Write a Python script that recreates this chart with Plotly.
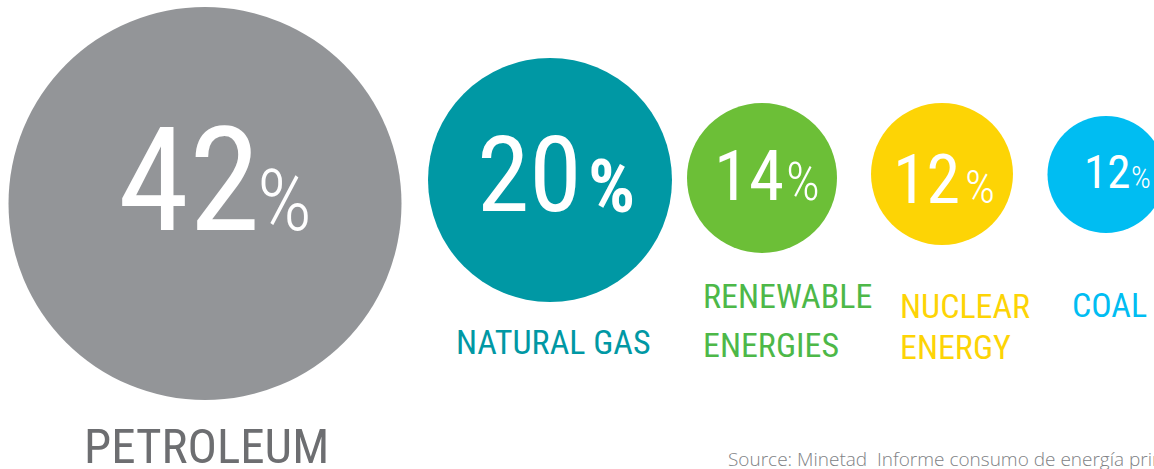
import plotly.graph_objects as go

# ---- data ----
categories = ["PETROLEUM", "NATURAL GAS", "RENEWABLE\nENERGIES", "NUCLEAR\nENERGY", "COAL"]
values = [42, 20, 14, 12, 12]
source_text = "Source: Minetad  Informe consumo de energía primaria"

# ---- layout / style (pixel coordinates, y downward) ----
W, H = 1154, 469
circle_colors = ["#939598", "#0098A4", "#6CBF37", "#FDD405", "#00BDF2"]
label_colors = ["#6D6E71", "#0098A4", "#4DB848", "#FDD405", "#00BDF2"]
centers_x = [205, 550, 762, 942, 1106]
centers_y = [203.5, 180, 178, 174, 174.5]
diameters = [393, 244, 150, 142, 117]

# percentage text: number centre x, % centre x, baseline y, fonts
num_x = [188.5, 529.5, 748.5, 926, 1107]
pc_x = [284, 611, 802.5, 979.5, 1141]
base_y = [230, 212, 200, 203, 188]
num_font = [144, 106, 71, 68, 47]
pc_font = [86, 74, 53, 47, 31]
pct_bold = [False, True, False, False, False]

# labels: anchor x, xanchor, first-line middle y, font, line spacing
lab_x = [206, 553, 701, 898, 1109.5]
lab_anchor = ["center", "center", "left", "left", "center"]
lab_y = [446, 341.5, 296, 305.5, 305]
lab_font = [49, 34, 34, 34, 34]
lab_spacing = [0, 0, 48.5, 41.5, 0]

FONT = "Roboto Condensed, Liberation Sans Narrow, sans-serif"
MID = 0.345  # box middle above baseline, in em

fig = go.Figure()
fig.add_trace(go.Scatter(
    x=centers_x, y=centers_y, mode="markers",
    marker=dict(size=diameters, color=circle_colors, opacity=1, line=dict(width=0)),
    hoverinfo="skip", showlegend=False, cliponaxis=True,
))

annotations = []
for i, v in enumerate(values):
    annotations.append(dict(
        x=num_x[i], y=base_y[i] - MID * num_font[i], xref="x", yref="y",
        text=str(v), showarrow=False, xanchor="center", yanchor="middle",
        font=dict(family=FONT, size=num_font[i], color="white", weight=400),
    ))
    annotations.append(dict(
        x=pc_x[i], y=base_y[i] - MID * pc_font[i], xref="x", yref="y",
        text="%", showarrow=False, xanchor="center", yanchor="middle",
        font=dict(family=FONT, size=pc_font[i], color="white",
                  weight=700 if pct_bold[i] else 300),
    ))
    for j, line in enumerate(categories[i].split("\n")):
        annotations.append(dict(
            x=lab_x[i], y=lab_y[i] + j * lab_spacing[i], xref="x", yref="y",
            text=line, showarrow=False, xanchor=lab_anchor[i], yanchor="middle",
            font=dict(family=FONT, size=lab_font[i], color=label_colors[i], weight=400),
        ))

annotations.append(dict(
    x=726, y=469, xref="x", yref="y", text=source_text, showarrow=False,
    xanchor="left", yanchor="bottom", yshift=-5,
    font=dict(family="Open Sans, sans-serif", size=19, color="#808285", weight=300),
))

fig.update_layout(
    width=W, height=H, margin=dict(l=0, r=0, t=0, b=0),
    paper_bgcolor="white", plot_bgcolor="white",
    xaxis=dict(range=[0, W], visible=False, fixedrange=True),
    yaxis=dict(range=[H, 0], visible=False, fixedrange=True),
    annotations=annotations, showlegend=False,
)

fig.write_html(
    "out.html",
    config={"displayModeBar": False},
    post_script="document.body.style.margin='0';document.body.style.overflow='hidden';",
)
